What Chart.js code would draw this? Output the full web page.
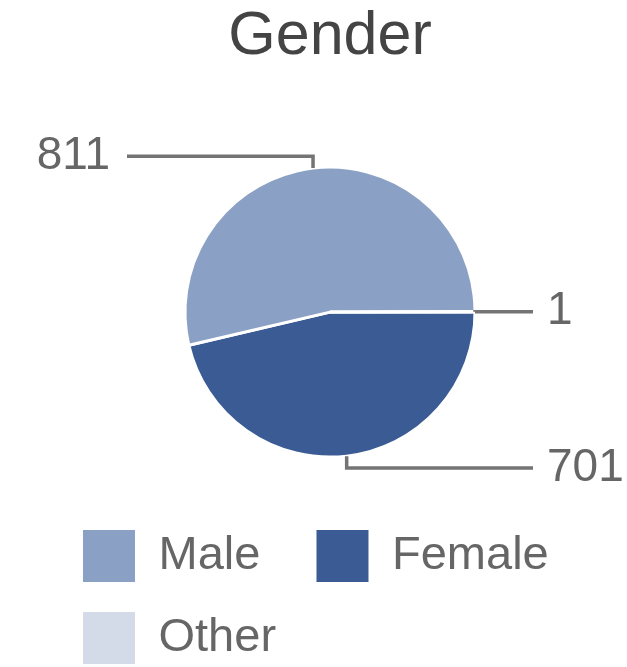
<!DOCTYPE html>
<html>
<head>
<meta charset="utf-8">
<script src="https://cdn.jsdelivr.net/npm/chart.js@4/dist/chart.umd.min.js"></script>
<style>
  html, body { margin: 0; padding: 0; background: #fff; }
  #wrap { width: 627px; height: 667px; }
</style>
</head>
<body>
<div id="wrap"><canvas id="genderChart"></canvas></div>
<script>
// legend order
var categories = ["Male", "Female", "Other"];
var counts = [811, 701, 1];
var colors = ["#8aa0c4", "#3a5b94", "#d3dbe8"];
// slices go clockwise from 3 o'clock in this order
var drawOrder = ["Female", "Male", "Other"];

var FONT = "Arial, 'Liberation Sans', sans-serif";

var sliceLabels = drawOrder;
var sliceValues = drawOrder.map(function (c) { return counts[categories.indexOf(c)]; });
var sliceColors = drawOrder.map(function (c) { return colors[categories.indexOf(c)]; });

// google style leader lines + value labels
var leaderLabels = {
  id: "leaderLabels",
  afterDatasetsDraw: function (chart) {
    var ctx = chart.ctx;
    var meta = chart.getDatasetMeta(0);
    ctx.save();
    ctx.strokeStyle = "#747474";
    ctx.lineWidth = 3.5;
    ctx.fillStyle = "#666";
    ctx.font = "46px " + FONT;
    ctx.textBaseline = "middle";
    meta.data.forEach(function (arc, i) {
      var p = arc.getProps(["x", "y", "startAngle", "endAngle", "outerRadius"], true);
      var mid = (p.startAngle + p.endAngle) / 2;
      var ex = p.x + p.outerRadius * Math.cos(mid);
      var ey = p.y + p.outerRadius * Math.sin(mid);
      var ly = p.y + (p.outerRadius + 12) * Math.sin(mid);
      var right = Math.cos(mid) >= 0;
      var lx = right ? p.x + p.outerRadius + 58 : p.x - p.outerRadius - 58;
      ctx.beginPath();
      ctx.moveTo(ex, ey);
      ctx.lineTo(ex, ly);
      ctx.lineTo(lx, ly);
      ctx.stroke();
      ctx.textAlign = right ? "left" : "right";
      ctx.fillText(String(sliceValues[i]), right ? lx + 14 : lx - 17, ly);
    });
    ctx.restore();
  }
};

new Chart(document.getElementById("genderChart"), {
  type: "pie",
  data: {
    labels: sliceLabels,
    datasets: [{
      data: sliceValues,
      backgroundColor: sliceColors,
      borderColor: "#ffffff",
      borderWidth: 3,
      radius: 145
    }]
  },
  options: {
    responsive: true,
    maintainAspectRatio: false,
    animation: false,
    rotation: 90,
    layout: { padding: { left: 53, right: 20, top: 0, bottom: -7 } },
    plugins: {
      tooltip: { enabled: false },
      title: {
        display: true,
        text: "Gender",
        color: "#444",
        font: { family: FONT, size: 61, weight: "normal" },
        padding: { top: 1, bottom: 50 }
      },
      legend: {
        display: true,
        position: "bottom",
        align: "start",
        labels: {
          boxWidth: 52,
          boxHeight: 52,
          padding: 30,
          color: "#666",
          font: { family: FONT, size: 47 },
          generateLabels: function (chart) {
            return categories.map(function (c, i) {
              return {
                text: c + "  ",
                fillStyle: colors[i],
                strokeStyle: colors[i],
                fontColor: "#666",
                lineWidth: 0,
                hidden: false,
                index: drawOrder.indexOf(c)
              };
            });
          }
        }
      }
    }
  },
  plugins: [leaderLabels]
});
</script>
</body>
</html>
